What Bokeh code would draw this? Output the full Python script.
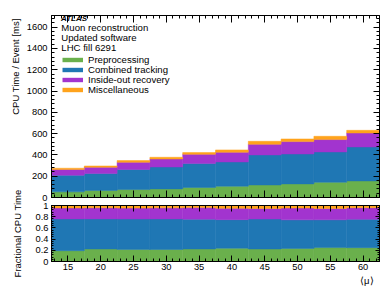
from bokeh.plotting import figure
from bokeh.layouts import column
from bokeh.models import (Range1d, LinearAxis, SingleIntervalTicker, Label, Legend,
                          LegendItem, ColumnDataSource, CustomJSTickFormatter, Title)
from bokeh.embed import file_html
from bokeh.resources import INLINE

# ---- data ----
mu = [15, 20, 25, 30, 35, 40, 45, 50, 55, 60]
preprocessing = [53, 66, 75, 81, 94, 106, 118, 128, 143, 156]
combined_tracking = [156, 159, 188, 206, 225, 228, 282, 281, 285, 319]
inside_out_recovery = [54, 59, 68, 75, 87, 91, 100, 116, 116, 131]
miscellaneous = [12, 12, 16, 16, 16, 22, 28, 25, 31, 25]
bin_width = 5
names = ["Preprocessing", "Combined tracking", "Inside-out recovery", "Miscellaneous"]
keys = ["pre", "comb", "io", "misc"]
colors = ["#6ab04c", "#1f77b4", "#a234cf", "#ffa31c"]
info_lines = ["Muon reconstruction", "Updated software", "LHC fill 6291"]

FONT = "Liberation Sans"

series = [preprocessing, combined_tracking, inside_out_recovery, miscellaneous]
totals = [sum(v) for v in zip(*series)]
src_abs = ColumnDataSource(dict(mu=mu, **{k: s for k, s in zip(keys, series)}))
src_frac = ColumnDataSource(dict(mu=mu, **{k: [a / t for a, t in zip(s, totals)]
                                           for k, s in zip(keys, series)}))

EMPTY = CustomJSTickFormatter(code="return ''")


def style_axis(ax, major_in, minor_in, labels=True, standoff=4):
    ax.major_tick_in = major_in
    ax.major_tick_out = 0
    ax.minor_tick_in = minor_in
    ax.minor_tick_out = 0
    for a in ("axis_line_color", "major_tick_line_color", "minor_tick_line_color"):
        setattr(ax, a, "black")
    ax.major_label_text_font = FONT
    ax.major_label_text_color = "black"
    ax.major_label_text_font_size = "9.3px"
    ax.axis_label_text_font = FONT
    ax.axis_label_text_font_style = "normal"
    ax.axis_label_text_font_size = "9.5px"
    ax.axis_label_text_color = "black"
    if labels:
        ax.major_label_standoff = standoff
    else:
        ax.formatter = EMPTY
        ax.major_label_standoff = 0


def side_title(text, align, standoff, offset):
    return Title(text=text, align=align, standoff=standoff, offset=offset,
                 text_font=FONT, text_font_style="normal", text_font_size="9.5px",
                 text_color="black")


# ---- top panel ----
xr = Range1d(12.5, 62.5)
p1 = figure(width=380, height=205, x_range=xr, y_range=Range1d(0, 1710),
            output_backend="svg", toolbar_location=None,
            min_border_left=51, min_border_right=1, min_border_top=15, min_border_bottom=8)
p1.grid.visible = False
p1.outline_line_color = "black"

xt = SingleIntervalTicker(interval=5, num_minor_ticks=5)
yt1 = SingleIntervalTicker(interval=200, num_minor_ticks=5)
p1.xaxis.ticker = xt
p1.yaxis.ticker = yt1
style_axis(p1.xaxis[0], 7, 3, labels=False)
style_axis(p1.yaxis[0], 6, 3, labels=True, standoff=4)
ax_top = LinearAxis(ticker=xt)
style_axis(ax_top, 7, 3, labels=False)
p1.add_layout(ax_top, "above")
ax_right = LinearAxis(ticker=yt1)
style_axis(ax_right, 6, 3, labels=False)
p1.add_layout(ax_right, "right")
p1.add_layout(side_title("CPU Time / Event [ms]", "right", 5, 3), "left")

rs = p1.vbar_stack(keys, x="mu", width=bin_width, source=src_abs,
                   fill_color=colors, line_color=colors, line_width=0.5)

# legend swatches: thick lines centred on each label row (renderers draw nothing)
nan = float("nan")
swatches = [p1.line(x=[nan], y=[nan], line_color=c, line_width=4.4) for c in colors]
row_h = 11
for i, (n, sw) in enumerate(zip(names, swatches)):
    centre = 137.7 - 10 * i          # px above frame bottom
    p1.add_layout(Legend(items=[LegendItem(label=n, renderers=[sw])],
                         location=(11, centre - row_h / 2), glyph_width=21,
                         glyph_height=row_h, label_height=row_h, label_standoff=5,
                         spacing=0, padding=0, margin=0, border_line_color=None,
                         background_fill_alpha=0, inactive_fill_alpha=0,
                         label_text_font=FONT, label_text_font_size="9.6px",
                         label_text_color="black"))

p1.add_layout(Label(x=13.95, y=1680, text="ATLAS",
                    text_font=FONT, text_font_style="bold italic", text_font_size="8px",
                    text_baseline="middle", text_color="black"))
for i, t in enumerate(info_lines):
    p1.add_layout(Label(x=14.0, y=1600 - 93 * i, text=t,
                        text_font=FONT, text_font_size="9.6px",
                        text_baseline="middle", text_color="black"))

# ---- bottom panel ----
p2 = figure(width=380, height=103, x_range=xr, y_range=Range1d(0, 1.0),
            output_backend="svg", toolbar_location=None,
            min_border_left=51, min_border_right=1, min_border_top=19, min_border_bottom=28,
            border_fill_color=None)
p2.margin = (-19, 0, 0, 0)
p2.grid.visible = False
p2.outline_line_color = "black"
yt2 = SingleIntervalTicker(interval=0.2, num_minor_ticks=5)
p2.xaxis.ticker = xt
p2.yaxis.ticker = yt2
style_axis(p2.xaxis[0], 6, 3, labels=True, standoff=2)
style_axis(p2.yaxis[0], 4, 2, labels=True, standoff=3)
p2.yaxis.formatter = CustomJSTickFormatter(code="return tick.toFixed(1).replace(/\\.0$/, '')")
p2.yaxis[0].axis_label = "Fractional CPU Time"
p2.yaxis[0].axis_label_standoff = 10
ax_top2 = LinearAxis(ticker=xt)
style_axis(ax_top2, 6, 3, labels=False)
p2.add_layout(ax_top2, "above")
ax_right2 = LinearAxis(ticker=yt2)
style_axis(ax_right2, 4, 2, labels=False)
p2.add_layout(ax_right2, "right")
p2.add_layout(side_title("⟨μ⟩", "right", 0, 6), "below")

p2.vbar_stack(keys, x="mu", width=bin_width, source=src_frac,
              fill_color=colors, line_color=colors, line_width=0.5)

layout = column(p1, p2, spacing=0)
open("out.html", "w").write(file_html(layout, INLINE))
